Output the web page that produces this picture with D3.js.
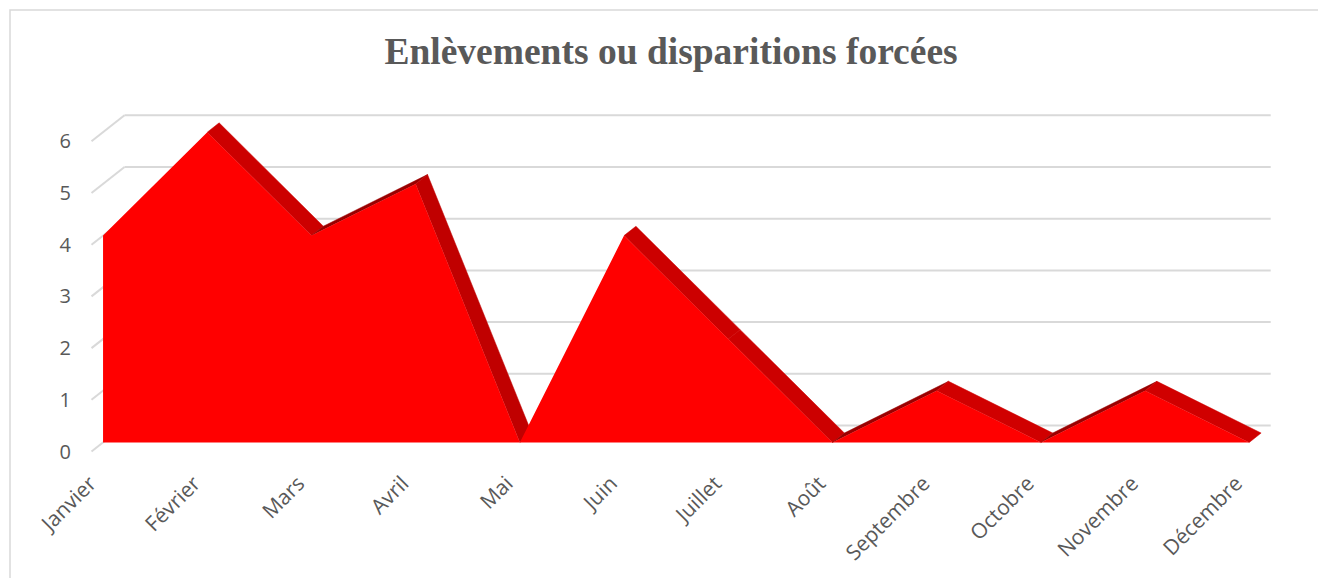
<!DOCTYPE html>
<html><head><meta charset="utf-8">
<script src="https://cdn.jsdelivr.net/npm/d3@7"></script>
<style>html,body{margin:0;padding:0;background:#fff;overflow:hidden}</style>
</head><body>
<svg id="c" width="1318" height="578"></svg>
<script>
const title = "Enlèvements ou disparitions forcées";
const categories = ["Janvier","Février","Mars","Avril","Mai","Juin","Juillet","Août","Septembre","Octobre","Novembre","Décembre"];
const values = [4,6,4,5,0,4,2,0,1,0,1,0];
const yTicks = [0,1,2,3,4,5,6];

const svg = d3.select("#c");
// chart border
svg.append("path").attr("d","M10,1000 L10,10 L1330,10").attr("fill","none").attr("stroke","#d9d9d9").attr("stroke-width",1.5);

svg.append("text").attr("x",671).attr("y",64).attr("text-anchor","middle")
  .attr("font-family","'Liberation Serif','Times New Roman',serif").attr("font-weight","bold")
  .attr("font-size",37.5).attr("fill","#595959").text(title);

// projection
const x = d3.scalePoint().domain(categories).range([91.5, 91.5 + 11*104.2]);
const y = d3.scaleLinear().domain([0,6]).range([451.5, 451.5 - 6*51.7]);
const DX = 33, DY = 26;
const tF = 0.35, tB = 0.71;
const px = (c,t) => x(c) + DX*t;
const py = (v,t) => y(v) - DY*t;

const grid = svg.append("g").attr("stroke","#d9d9d9").attr("stroke-width",2).attr("fill","none");
yTicks.forEach(v=>{
  grid.append("line").attr("x1",px(categories[0],0)).attr("y1",py(v,0)).attr("x2",px(categories[0],1)).attr("y2",py(v,1));
  grid.append("line").attr("x1",px(categories[0],1)).attr("y1",py(v,1)).attr("x2",px(categories[categories.length-1],1)).attr("y2",py(v,1));
});
svg.append("g").selectAll("text").data(yTicks).join("text")
  .attr("x",71).attr("y",v=>py(v,0)).attr("dy","0.35em").attr("text-anchor","end")
  .attr("font-family","'Open Sans',sans-serif").attr("font-size",20).attr("fill","#595959").text(d=>d);

// top strips
const strips = svg.append("g");
const segs = [];
for(let i=0;i<values.length-1;i++){
  const c0=categories[i], c1=categories[i+1], v0=values[i], v1=values[i+1];
  const F0=[px(c0,tF),py(v0,tF)], F1=[px(c1,tF),py(v1,tF)], B1=[px(c1,tB),py(v1,tB)], B0=[px(c0,tB),py(v0,tB)];
  const sx=F1[0]-F0[0], sy=F1[1]-F0[1], dx=B0[0]-F0[0], dy=B0[1]-F0[1];
  const visible = (dy*sx - sy*dx) < 0;
  if(!visible) continue;
  const slope = v1-v0;
  const col = slope<0 ? d3.interpolateRgb("#d00000","#c00000")(Math.min(1,(-slope-1)/4)) : "#9a0000";
  segs.push({pts:[F0,F1,B1,B0], col});
}
strips.selectAll("path").data(segs).join("path")
  .attr("d",d=>"M"+d.pts.map(p=>p.join(",")).join("L")+"Z").attr("fill",d=>d.col)
  .attr("stroke",d=>d.col).attr("stroke-width",0.5);

// front face
const area = d3.area().x((d,i)=>px(categories[i],tF)).y0(py(0,tF)).y1(d=>py(d,tF));
svg.append("path").datum(values).attr("d",area).attr("fill","#ff0000");

// x labels
svg.append("g").selectAll("text").data(categories).join("text")
  .attr("transform",c=>`translate(${x(c)+6},485) rotate(-45)`).attr("text-anchor","end")
  .attr("font-family","'Open Sans',sans-serif").attr("font-size",21).attr("fill","#595959").text(c=>c);
</script>
</body></html>
